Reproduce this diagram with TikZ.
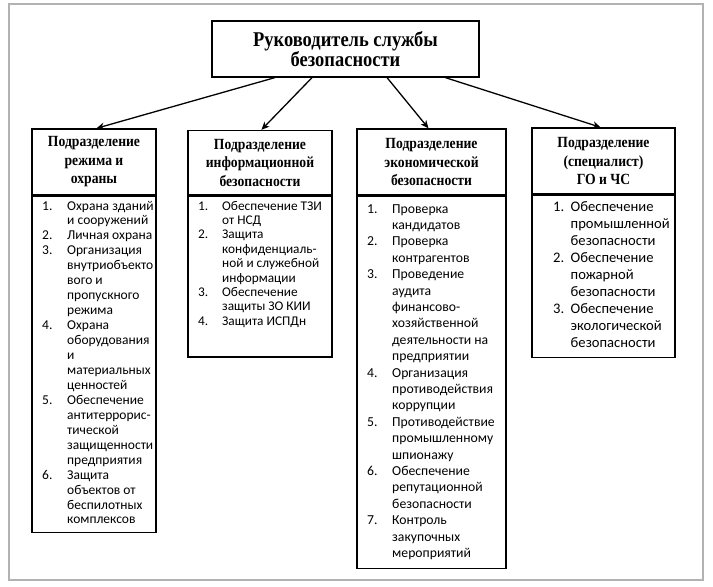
\documentclass[tikz,border=0pt]{standalone}
\usepackage{fontspec}
\setmainfont{Carlito}
\newfontfamily\hdfont[FakeStretch=0.88]{Liberation Serif}
\usetikzlibrary{calc,arrows.meta}
\tikzset{
  box/.style={draw, line width=1.4pt, rectangle, inner sep=0pt},
  conn/.style={-{Stealth[length=8pt,width=7pt]}, line width=1.3pt},
  hdr/.style={box, align=center, font=\hdfont\bfseries\fontsize{15.5}{18.5}\selectfont},
  ttl/.style={box, align=center, font=\hdfont\bfseries\fontsize{21}{20.5}\selectfont},
  lst/.style={inner sep=0pt, anchor=base west},
}
\begin{document}
\begin{tikzpicture}[x=1pt,y=-1pt]
\useasboundingbox (0,0) rectangle (713,587);
\draw[black!30, line width=1.5pt] (9,4) rectangle (703,580);

\node[ttl, minimum width=267pt, minimum height=56pt] (top) at (345.5,49) {Руководитель службы\\безопасности};

\node[hdr, minimum width=124pt, minimum height=66pt] (h1) at (94,162) {Подразделение\\режима и\\охраны};
\node[hdr, minimum width=144pt, minimum height=64pt] (h2) at (260,162.5) {Подразделение\\информационной\\безопасности};
\node[hdr, minimum width=149pt, minimum height=66pt] (h3) at (431.5,162) {Подразделение\\экономической\\безопасности};
\node[hdr, minimum width=143pt, minimum height=66pt] (h4) at (603.5,161) {Подразделение\\(специалист)\\ГО и ЧС};

\node[box, minimum width=124pt, minimum height=336pt, anchor=north] (b1) at (h1.south) {};
\node[box, minimum width=144pt, minimum height=161pt, anchor=north] (b2) at (h2.south) {};
\node[box, minimum width=149pt, minimum height=372pt, anchor=north] (b3) at (h3.south) {};
\node[box, minimum width=143pt, minimum height=162pt, anchor=north] (b4) at (h4.south) {};

\node[lst, font=\fontsize{13.5}{14.95}\selectfont] (t1) at (42,210) {\begin{tabular}[t]{@{}p{25pt}@{}l@{}}
1. & Охрана зданий\\
   & и сооружений\\
2. & Личная охрана\\
3. & Организация\\
   & внутриобъекто\\
   & вого и\\
   & пропускного\\
   & режима\\
4. & Охрана\\
   & оборудования\\
   & и\\
   & материальных\\
   & ценностей\\
5. & Обеспечение\\
   & антитеррорис-\\
   & тической\\
   & защищенности\\
   & предприятия\\
6. & Защита\\
   & объектов от\\
   & беспилотных\\
   & комплексов
\end{tabular}};

\node[lst, font=\fontsize{13.3}{14.4}\selectfont] (t2) at (198,210) {\begin{tabular}[t]{@{}p{24pt}@{}l@{}}
1. & Обеспечение ТЗИ\\
   & от НСД\\
2. & Защита\\
   & конфиденциаль-\\
   & ной и служебной\\
   & информации\\
3. & Обеспечение\\
   & защиты ЗО КИИ\\
4. & Защита ИСПДн
\end{tabular}};

\node[lst, font=\fontsize{13.7}{16.4}\selectfont] (t3) at (367,213) {\begin{tabular}[t]{@{}p{25pt}@{}l@{}}
1. & Проверка\\
   & кандидатов\\
2. & Проверка\\
   & контрагентов\\
3. & Проведение\\
   & аудита\\
   & финансово-\\
   & хозяйственной\\
   & деятельности на\\
   & предприятии\\
4. & Организация\\
   & противодействия\\
   & коррупции\\
5. & Противодействие\\
   & промышленному\\
   & шпионажу\\
6. & Обеспечение\\
   & репутационной\\
   & безопасности\\
7. & Контроль\\
   & закупочных\\
   & мероприятий
\end{tabular}};

\node[lst, font=\fontsize{14.6}{17}\selectfont] (t4) at (553,211.5) {\begin{tabular}[t]{@{}p{17.5pt}@{}l@{}}
1. & Обеспечение\\
   & промышленной\\
   & безопасности\\
2. & Обеспечение\\
   & пожарной\\
   & безопасности\\
3. & Обеспечение\\
   & экологической\\
   & безопасности
\end{tabular}};

\draw[conn] ($(top.south west)!0.236!(top.south east)$) -- ($(h1.north west)!0.52!(h1.north east)$);
\draw[conn] ($(top.south west)!0.375!(top.south east)$) -- ($(h2.north west)!0.51!(h2.north east)$);
\draw[conn] ($(top.south west)!0.655!(top.south east)$) -- ($(h3.north west)!0.48!(h3.north east)$);
\draw[conn] ($(top.south west)!0.873!(top.south east)$) -- ($(h4.north west)!0.48!(h4.north east)$);
\end{tikzpicture}
\end{document}
